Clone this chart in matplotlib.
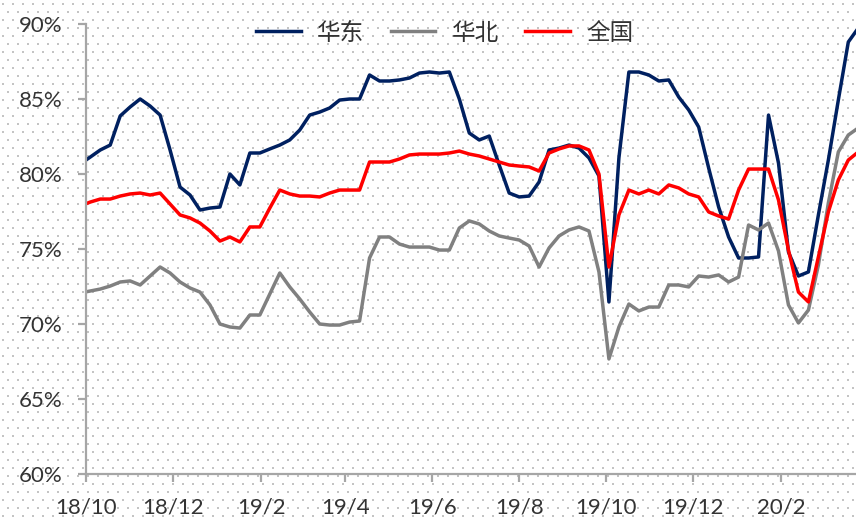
import matplotlib
matplotlib.use('Agg')
import matplotlib.pyplot as plt
import numpy as np
import pandas as pd

# weekly operating rates, Thursdays from 2018-09-27
dates = pd.date_range('2018-09-27', periods=79, freq='7D')

east = [80.67, 81.13, 81.6, 81.93, 83.87, 84.47, 85.0, 84.53, 83.93, 81.6,
        79.13, 78.6, 77.6, 77.73, 77.8, 80.0, 79.27, 81.4, 81.4, 81.67,
        81.93, 82.27, 82.93, 83.93, 84.13, 84.4, 84.93, 85.0, 85.0, 86.6,
        86.2, 86.2, 86.27, 86.4, 86.73, 86.8, 86.73, 86.8, 85.0, 82.73,
        82.27, 82.53, 80.6, 78.73, 78.47, 78.53, 79.47, 81.6, 81.73, 81.93,
        81.73, 81.07, 79.87, 71.47, 81.07, 86.8, 86.8, 86.6, 86.2, 86.27,
        85.13, 84.27, 83.13, 80.4, 77.8, 75.8, 74.4, 74.4, 74.47, 83.93,
        80.73, 74.8, 73.2, 73.47, 77.27, 80.93, 84.93, 88.8, 89.73]

north = [72.07, 72.2, 72.33, 72.53, 72.8, 72.87, 72.6, 73.2, 73.8, 73.4,
         72.8, 72.4, 72.13, 71.27, 70.0, 69.8, 69.73, 70.6, 70.6, 72.0,
         73.4, 72.47, 71.67, 70.8, 70.0, 69.93, 69.93, 70.13, 70.2, 74.4,
         75.8, 75.8, 75.33, 75.13, 75.13, 75.13, 74.93, 74.93, 76.4, 76.87,
         76.67, 76.2, 75.87, 75.73, 75.6, 75.2, 73.8, 75.07, 75.87, 76.27,
         76.47, 76.2, 73.47, 67.67, 69.8, 71.33, 70.87, 71.13, 71.13, 72.6,
         72.6, 72.47, 73.2, 73.13, 73.27, 72.8, 73.13, 76.6, 76.27, 76.73,
         74.87, 71.27, 70.07, 70.93, 73.93, 78.07, 81.47, 82.6, 83.07]

national = [77.87, 78.13, 78.33, 78.33, 78.53, 78.67, 78.73, 78.6, 78.73, 78.0,
            77.27, 77.07, 76.73, 76.2, 75.53, 75.8, 75.47, 76.47, 76.47, 77.73,
            78.93, 78.67, 78.53, 78.53, 78.47, 78.73, 78.93, 78.93, 78.93, 80.8,
            80.8, 80.8, 81.0, 81.27, 81.33, 81.33, 81.33, 81.4, 81.53, 81.33,
            81.2, 81.0, 80.8, 80.6, 80.53, 80.47, 80.2, 81.4, 81.67, 81.87,
            81.87, 81.6, 80.0, 73.8, 77.27, 78.93, 78.67, 78.93, 78.67, 79.27,
            79.07, 78.67, 78.47, 77.47, 77.2, 77.0, 78.93, 80.33, 80.33, 80.33,
            78.27, 74.93, 72.13, 71.47, 74.47, 77.47, 79.6, 80.93, 81.47]

series_names = ['华东', '华北', '全国']
series_colors = ['#002060', '#808080', '#FF0000']

tick_dates = pd.to_datetime(['2018-10-01', '2018-12-01', '2019-02-01', '2019-04-01',
                             '2019-06-01', '2019-08-01', '2019-10-01', '2019-12-01',
                             '2020-02-01'])
tick_labels = ['18/10', '18/12', '19/2', '19/4', '19/6', '19/8', '19/10', '19/12', '20/2']
y_ticks = [60, 65, 70, 75, 80, 85, 90]

plt.rcParams['font.family'] = ['Lato', 'Noto Sans CJK SC', 'DejaVu Sans']

W, H = 856, 520
fig = plt.figure(figsize=(W / 100, H / 100), dpi=100)

# dotted background texture over the whole figure
bg = fig.add_axes([0, 0, 1, 1], zorder=-1)
bg.set_xlim(0, W)
bg.set_ylim(H, 0)
bg.axis('off')
xs, ys = [], []
for r, yy in enumerate(np.arange(4, H, 8)):
    off = 0 if r % 2 == 0 else 5
    for xx in np.arange(3 + off, W, 10):
        xs.append(xx)
        ys.append(yy)
bg.scatter(xs, ys, s=1.4, c='#c4c4c4', marker='s', linewidths=0)

ax = fig.add_axes([86 / W, 46 / H, 770 / W, 450 / H])
ax.patch.set_alpha(0)

for vals, name, col in zip([east, north, national], series_names, series_colors):
    ax.plot(dates, vals, color=col, lw=2.5, label=name, solid_joinstyle='round')

start = pd.Timestamp('2018-10-01')
ax.set_xlim(start, start + pd.Timedelta(days=540.4))
ax.set_ylim(60, 90)

ax.set_xticks(tick_dates)
ax.set_xticklabels(tick_labels)
ax.set_yticks(y_ticks)
ax.set_yticklabels([f'{v}%' for v in y_ticks])

for s in ['top', 'right']:
    ax.spines[s].set_visible(False)
for s in ['left', 'bottom']:
    ax.spines[s].set_color('#a6a6a6')
    ax.spines[s].set_linewidth(1.6)

ax.tick_params(axis='both', direction='out', length=6, width=1.6, color='#a6a6a6',
               labelsize=16, labelcolor='#333333')
ax.tick_params(axis='y', pad=11)
ax.tick_params(axis='x', pad=11)

ax.legend(loc='center', bbox_to_anchor=(0.466, 0.98), ncol=3, frameon=False,
          handlelength=1.9, handletextpad=0.7, columnspacing=1.1,
          prop={'family': ['Noto Sans CJK SC'], 'size': 17}, labelcolor='#333333')

fig.savefig('out.png', dpi=100)
